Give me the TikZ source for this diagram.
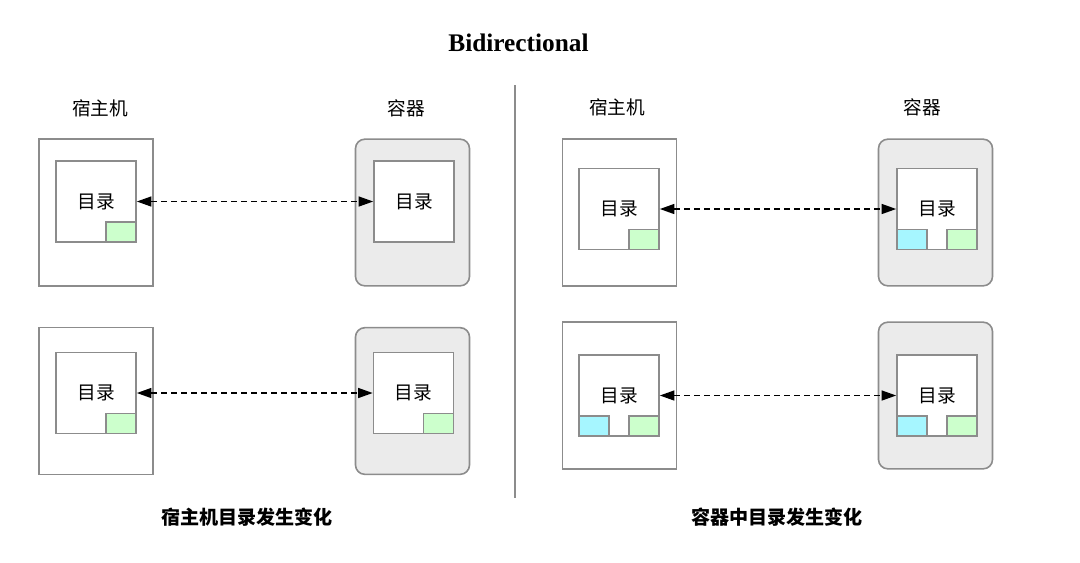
\documentclass[tikz,border=0pt]{standalone}
\usepackage{fontspec}
\setmainfont{Liberation Serif}
\newfontfamily\cjk{Noto Sans CJK SC}
\usetikzlibrary{arrows.meta}
\definecolor{boxgray}{HTML}{8C8C8C}
\definecolor{ctrfill}{HTML}{EBEBEB}
\definecolor{newgreen}{HTML}{CCFFCC}
\definecolor{newcyan}{HTML}{A6F6FF}
\tikzset{
  hostbox/.style = {draw=boxgray, line width=1.2pt, fill=white, minimum width=85.5pt, minimum height=110pt},
  ctrbox/.style  = {hostbox, fill=ctrfill, rounded corners=7pt},
  dirbox/.style  = {draw=boxgray, line width=1.2pt, fill=white, minimum width=60pt, minimum height=61pt, font=\cjk\fontsize{14}{16}\selectfont},
  greenfile/.style = {draw=boxgray, line width=1.2pt, fill=newgreen, minimum width=22.5pt, minimum height=15pt, inner sep=0pt},
  cyanfile/.style  = {greenfile, fill=newcyan},
  sidelabel/.style = {font=\cjk\fontsize{14}{16}\selectfont},
  caption/.style   = {font=\cjk\bfseries\fontsize{14.3}{16}\selectfont},
  sync/.style = {{Triangle[length=11pt,width=7.5pt]}-{Triangle[length=11pt,width=7.5pt]}, dash pattern=on 4.5pt off 3pt, line width=1.2pt}
}

\begin{document}
\begin{tikzpicture}[x=0.75pt, y=-0.75pt]
\useasboundingbox (0,0) rectangle (1080,562);

\node[font=\bfseries\fontsize{19}{22}\selectfont] (title) at (518.5,43) {Bidirectional};
\draw[boxgray, line width=1pt] (515,85) coordinate (divtop) -- (515,498) coordinate (divbot);

% host directory changes
\node[sidelabel] (lhostlbl) at (100,108) {宿主机};
\node[sidelabel] (lctrlbl) at (406,108) {容器};

\node[hostbox] (lhost1) at (96,212.5) {};
\node[dirbox] (lhdir1) at (96,201.5) {目录};
\node[greenfile, anchor=south east] (lhnew1) at (lhdir1.south east) {};
\node[ctrbox] (lctr1) at (412.5,212.5) {};
\node[dirbox] (lcdir1) at (414,201.5) {目录};
\draw[sync] (lhdir1.east) -- (lcdir1.west);

\node[hostbox] (lhost2) at (96,401) {};
\node[dirbox] (lhdir2) at (96,393) {目录};
\node[greenfile, anchor=south east] (lhnew2) at (lhdir2.south east) {};
\node[ctrbox] (lctr2) at (412.5,401) {};
\node[dirbox] (lcdir2) at (413.5,393) {目录};
\node[greenfile, anchor=south east] (lcnew2) at (lcdir2.south east) {};
\draw[sync] (lhdir2.east) -- (lcdir2.west);

\node[caption] (lcap) at (247,517) {宿主机目录发生变化};

% container directory changes
\node[sidelabel] (rhostlbl) at (617,107) {宿主机};
\node[sidelabel] (rctrlbl) at (922,107) {容器};

\node[hostbox] (rhost1) at (619.5,212.5) {};
\node[dirbox] (rhdir1) at (619,209) {目录};
\node[greenfile, anchor=south east] (rhnew1) at (rhdir1.south east) {};
\node[ctrbox] (rctr1) at (935.5,212.5) {};
\node[dirbox] (rcdir1) at (937,209) {目录};
\node[cyanfile, anchor=south west] (rcadd1) at (rcdir1.south west) {};
\node[greenfile, anchor=south east] (rcnew1) at (rcdir1.south east) {};
\draw[sync] (rhdir1.east) -- (rcdir1.west);

\node[hostbox] (rhost2) at (619.5,395.5) {};
\node[dirbox] (rhdir2) at (619,395.5) {目录};
\node[cyanfile, anchor=south west] (rhadd2) at (rhdir2.south west) {};
\node[greenfile, anchor=south east] (rhnew2) at (rhdir2.south east) {};
\node[ctrbox] (rctr2) at (935.5,395.5) {};
\node[dirbox] (rcdir2) at (937,395.5) {目录};
\node[cyanfile, anchor=south west] (rcadd2) at (rcdir2.south west) {};
\node[greenfile, anchor=south east] (rcnew2) at (rcdir2.south east) {};
\draw[sync] (rhdir2.east) -- (rcdir2.west);

\node[caption] (rcap) at (777,517) {容器中目录发生变化};
\end{tikzpicture}
\end{document}
